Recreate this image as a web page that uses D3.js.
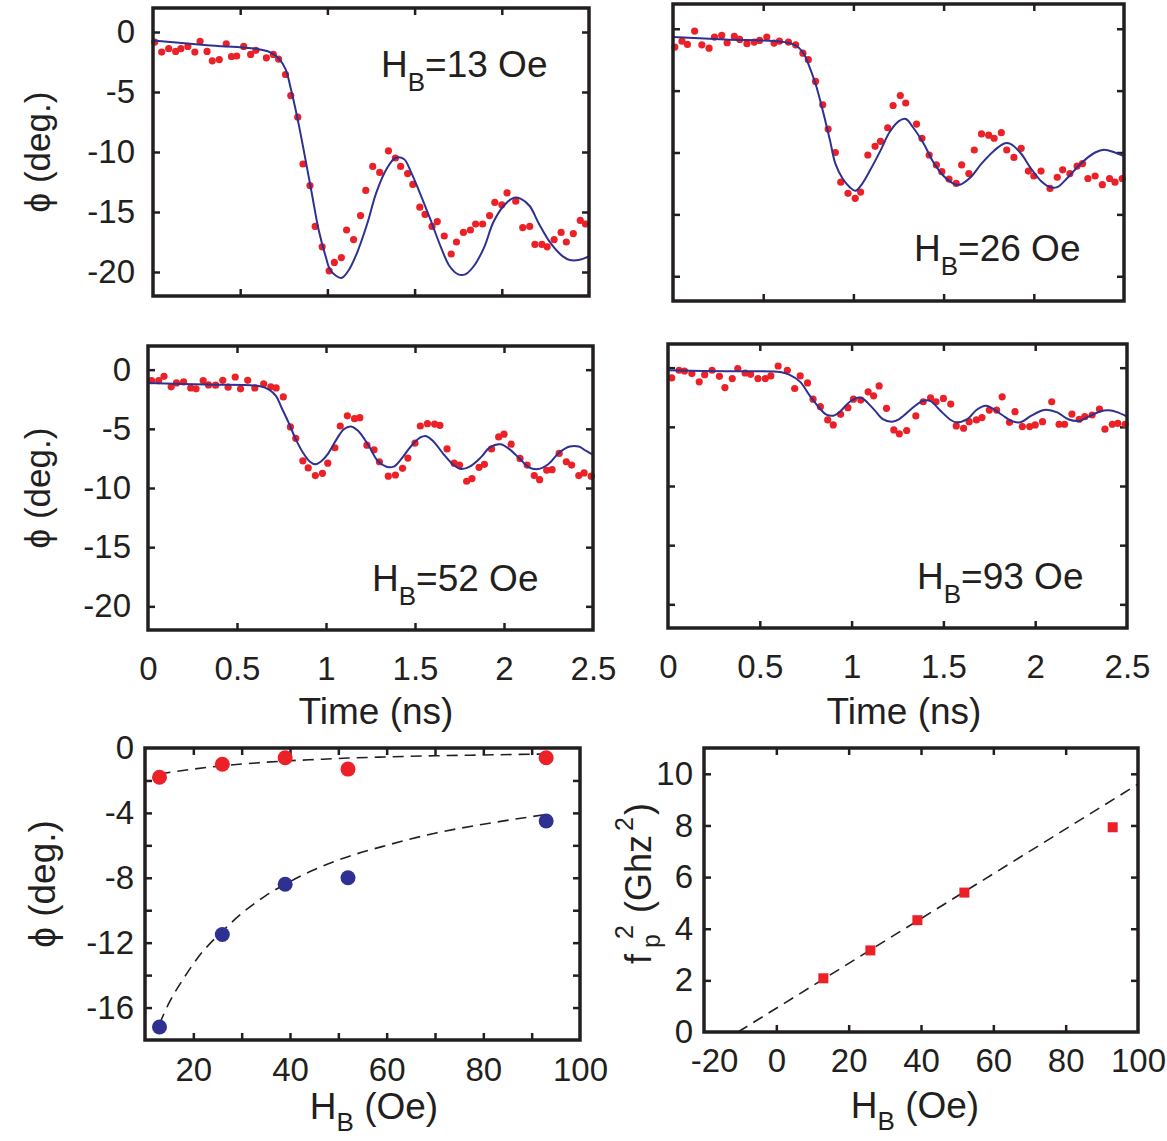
<!DOCTYPE html>
<html lang="en">
<head>
<meta charset="utf-8">
<script src="https://d3js.org/d3.v7.min.js"></script>
<style>
  body { margin: 0; background: #fff; }
  text { font-family: "Liberation Sans", Arial, Helvetica, sans-serif; fill: #231f20; }
</style>
</head>
<body>
<svg width="1167" height="1141"></svg>
<script>

// ---- data ----
// time traces: [t (ns), phi (deg)]
var data13 = [[0.01,-0.84],[0.05,-1.67],[0.09,-1.39],[0.13,-1.62],[0.16,-1.39],[0.2,-1.2],[0.24,-1.67],[0.27,-0.78],[0.31,-1.62],[0.34,-2.4],[0.38,-2.3],[0.42,-0.98],[0.45,-2.04],[0.48,-2.0],[0.52,-1.2],[0.56,-1.87],[0.59,-1.53],[0.65,-2.15],[0.69,-1.87],[0.72,-2.26],[0.76,-3.54],[0.79,-5.3],[0.83,-7.1],[0.86,-11.0],[0.9,-12.8],[0.93,-16.2],[0.97,-17.9],[1.01,-19.9],[1.04,-19.2],[1.08,-18.8],[1.11,-16.5],[1.15,-17.3],[1.19,-15.3],[1.22,-13.2],[1.26,-11.2],[1.3,-11.7],[1.35,-9.9],[1.39,-10.5],[1.42,-11.2],[1.46,-11.8],[1.49,-12.7],[1.53,-14.6],[1.56,-15.2],[1.6,-16.2],[1.63,-15.8],[1.67,-17.0],[1.71,-18.5],[1.74,-17.5],[1.78,-16.7],[1.82,-16.5],[1.85,-16.0],[1.89,-16.0],[1.93,-15.3],[1.96,-14.2],[2.0,-14.4],[2.03,-13.4],[2.08,-14.1],[2.12,-16.3],[2.16,-16.2],[2.19,-17.7],[2.23,-17.7],[2.26,-17.9],[2.3,-17.3],[2.34,-16.7],[2.37,-17.5],[2.41,-16.8],[2.45,-15.7],[2.48,-16.0]];
var fit13 = [[0,-0.7],[0.31,-1.1],[0.59,-1.4],[0.67,-1.67],[0.72,-2.2],[0.76,-3.1],[0.79,-4.7],[0.83,-7.3],[0.87,-10.3],[0.91,-13.4],[0.95,-16.5],[0.99,-18.7],[1.02,-19.9],[1.08,-20.5],[1.12,-19.9],[1.17,-18.4],[1.23,-15.9],[1.28,-13.4],[1.34,-11.4],[1.39,-10.5],[1.44,-10.6],[1.48,-11.7],[1.53,-13.4],[1.59,-15.6],[1.65,-17.9],[1.7,-19.5],[1.75,-20.2],[1.79,-20.2],[1.84,-19.5],[1.9,-17.9],[1.95,-15.9],[2.01,-14.5],[2.07,-13.8],[2.11,-13.9],[2.16,-14.5],[2.21,-15.9],[2.28,-17.6],[2.35,-18.7],[2.39,-19.0],[2.44,-19.0],[2.5,-18.7]];

var data26 = [[0.01,-1.48],[0.05,-1.0],[0.08,-1.27],[0.12,-0.19],[0.16,-1.3],[0.2,-1.57],[0.23,-0.67],[0.27,-0.54],[0.3,-1.13],[0.34,-0.62],[0.37,-0.86],[0.41,-1.21],[0.45,-1.08],[0.48,-0.94],[0.52,-0.67],[0.56,-1.16],[0.59,-1.0],[0.64,-1.08],[0.68,-1.3],[0.72,-1.97],[0.75,-2.5],[0.79,-4.26],[0.83,-6.15],[0.86,-8.1],[0.9,-10.0],[0.93,-12.4],[0.97,-13.3],[1.01,-13.7],[1.04,-13.2],[1.08,-10.2],[1.12,-9.5],[1.15,-9.1],[1.19,-8.0],[1.22,-6.2],[1.26,-5.4],[1.29,-6.0],[1.35,-7.7],[1.38,-8.85],[1.42,-10.2],[1.46,-11.0],[1.49,-11.55],[1.53,-12.15],[1.57,-12.5],[1.6,-11.0],[1.64,-11.7],[1.67,-9.8],[1.71,-8.5],[1.75,-8.6],[1.78,-8.85],[1.82,-8.4],[1.85,-9.8],[1.89,-10.4],[1.93,-9.66],[1.97,-11.5],[2.0,-11.9],[2.04,-11.5],[2.09,-12.9],[2.13,-12.0],[2.16,-11.4],[2.2,-11.7],[2.24,-11.1],[2.27,-10.9],[2.3,-12.1],[2.34,-11.9],[2.38,-12.6],[2.42,-12.1],[2.45,-12.4],[2.49,-12.1]];
var fit26 = [[0,-0.67],[0.29,-0.86],[0.62,-1.08],[0.68,-1.35],[0.72,-1.9],[0.75,-2.83],[0.79,-4.45],[0.83,-6.6],[0.87,-9.0],[0.9,-10.9],[0.94,-12.1],[0.98,-12.8],[1.01,-13.1],[1.04,-12.7],[1.09,-11.5],[1.15,-9.85],[1.2,-8.37],[1.25,-7.48],[1.29,-7.29],[1.33,-7.96],[1.39,-9.3],[1.44,-10.7],[1.5,-11.9],[1.56,-12.55],[1.59,-12.6],[1.65,-12.0],[1.71,-10.9],[1.78,-9.85],[1.84,-9.26],[1.87,-9.3],[1.93,-10.1],[1.98,-11.2],[2.04,-12.3],[2.09,-12.8],[2.13,-12.8],[2.19,-12.0],[2.26,-10.9],[2.34,-10.0],[2.39,-9.77],[2.45,-10.0],[2.5,-10.3]];

var data52 = [[0.02,-0.92],[0.06,-0.92],[0.09,-0.56],[0.13,-1.45],[0.16,-1.12],[0.2,-1.03],[0.24,-1.54],[0.27,-1.62],[0.31,-0.92],[0.34,-1.29],[0.38,-1.31],[0.42,-0.9],[0.45,-1.48],[0.49,-0.62],[0.52,-1.62],[0.56,-0.9],[0.6,-1.54],[0.65,-1.2],[0.69,-1.45],[0.72,-1.54],[0.76,-2.3],[0.8,-4.84],[0.83,-5.8],[0.87,-7.7],[0.9,-8.3],[0.94,-8.95],[0.98,-8.76],[1.01,-7.9],[1.05,-6.6],[1.08,-4.76],[1.12,-3.9],[1.16,-4.14],[1.19,-4.06],[1.23,-6.38],[1.27,-6.77],[1.3,-7.78],[1.35,-9.0],[1.39,-8.9],[1.43,-8.34],[1.46,-7.47],[1.5,-6.2],[1.53,-4.76],[1.57,-4.56],[1.61,-4.6],[1.64,-4.7],[1.68,-6.7],[1.72,-7.9],[1.75,-8.06],[1.79,-9.43],[1.82,-9.2],[1.86,-8.25],[1.89,-8.0],[1.93,-6.7],[1.97,-5.68],[2.0,-5.45],[2.04,-6.3],[2.09,-7.5],[2.13,-8.06],[2.17,-8.95],[2.2,-9.3],[2.24,-8.5],[2.27,-8.45],[2.31,-7.08],[2.35,-7.78],[2.38,-8.06],[2.42,-8.95],[2.45,-8.73],[2.49,-9.0]];
var fit52 = [[0,-1.12],[0.33,-1.26],[0.63,-1.4],[0.68,-1.68],[0.72,-2.24],[0.75,-3.2],[0.79,-4.48],[0.83,-5.87],[0.87,-7.0],[0.91,-7.78],[0.94,-8.0],[0.97,-7.78],[1.01,-7.13],[1.06,-5.87],[1.1,-5.03],[1.14,-4.8],[1.18,-5.17],[1.24,-6.43],[1.29,-7.7],[1.34,-8.2],[1.38,-8.2],[1.42,-7.6],[1.48,-6.43],[1.53,-5.73],[1.56,-5.6],[1.6,-6.0],[1.66,-7.13],[1.72,-8.1],[1.76,-8.4],[1.81,-8.17],[1.87,-7.41],[1.92,-6.57],[1.98,-6.3],[2.03,-6.71],[2.09,-7.55],[2.14,-8.25],[2.19,-8.4],[2.25,-7.97],[2.31,-7.0],[2.37,-6.49],[2.42,-6.5],[2.46,-6.85],[2.5,-7.2]];

var data93 = [[0.02,-0.87],[0.06,-0.22],[0.09,-0.28],[0.13,-0.5],[0.17,-1.2],[0.2,-0.59],[0.24,-0.22],[0.28,-0.73],[0.31,-1.68],[0.35,-0.92],[0.38,-0.08],[0.42,-0.45],[0.45,-0.56],[0.49,-0.92],[0.53,-0.92],[0.56,-0.7],[0.6,0.14],[0.65,-0.22],[0.69,-1.76],[0.72,-0.7],[0.76,-1.29],[0.79,-2.66],[0.83,-3.3],[0.87,-4.42],[0.9,-4.84],[0.94,-3.94],[0.98,-3.38],[1.01,-2.66],[1.05,-2.74],[1.09,-2.04],[1.12,-2.38],[1.15,-1.54],[1.19,-3.44],[1.23,-5.26],[1.26,-5.59],[1.3,-5.31],[1.35,-4.08],[1.39,-2.88],[1.43,-2.55],[1.46,-2.88],[1.5,-2.6],[1.54,-3.08],[1.57,-4.92],[1.61,-5.12],[1.64,-4.56],[1.68,-4.42],[1.71,-4.22],[1.75,-3.58],[1.79,-3.58],[1.82,-2.46],[1.86,-4.62],[1.89,-3.72],[1.93,-4.98],[1.97,-4.98],[2.0,-4.84],[2.04,-4.56],[2.09,-2.88],[2.13,-4.78],[2.16,-4.78],[2.2,-3.92],[2.24,-4.36],[2.27,-4.14],[2.31,-4.0],[2.35,-3.5],[2.38,-5.2],[2.42,-4.78],[2.45,-4.7],[2.49,-4.78]];
var fit93 = [[0,-0.22],[0.32,-0.31],[0.61,-0.36],[0.66,-0.59],[0.72,-1.2],[0.77,-2.32],[0.83,-3.5],[0.86,-3.94],[0.9,-4.06],[0.94,-3.66],[0.99,-2.88],[1.04,-2.52],[1.06,-2.6],[1.12,-3.5],[1.17,-4.34],[1.22,-4.56],[1.26,-4.34],[1.34,-3.3],[1.39,-2.8],[1.43,-2.83],[1.48,-3.58],[1.54,-4.42],[1.57,-4.62],[1.63,-4.34],[1.68,-3.58],[1.73,-3.22],[1.76,-3.38],[1.82,-4.0],[1.87,-4.5],[1.92,-4.62],[1.97,-4.14],[2.03,-3.66],[2.06,-3.55],[2.12,-3.78],[2.18,-4.36],[2.24,-4.5],[2.29,-4.14],[2.35,-3.72],[2.4,-3.6],[2.45,-3.78],[2.5,-4.14]];

// summary panels
var fieldHB = [13, 26, 39, 52, 93];
var phiRed  = [-1.8, -1.0, -0.6, -1.3, -0.6];
var phiBlue = [-17.2, -11.5, -8.4, -8.0, -4.5];
var fitRed  = [[13,-1.6],[20,-1.3],[26,-1.1],[33,-0.92],[39,-0.8],[46,-0.7],[52,-0.62],[60,-0.55],[70,-0.48],[80,-0.43],[93,-0.37]];
var fitBlue = [[13,-17.0],[15,-15.7],[18,-14.2],[21,-12.9],[26,-11.3],[30,-10.2],[35,-9.1],[39,-8.4],[45,-7.5],[52,-6.7],[60,-6.0],[70,-5.25],[80,-4.7],[93,-4.1]];
var fp2     = [2.08, 3.16, 4.33, 5.4, 7.93];
var fitFp2  = [[-10.6, 0], [100, 9.6]];

// tick values / labels
var timeTicks  = [0.5, 1, 1.5, 2];
var timeLabels = [0, 0.5, 1, 1.5, 2, 2.5];
var phiTicks   = [0, -5, -10, -15, -20];
var hbTicks    = [20, 30, 40, 50, 60, 70, 80, 90];
var hbLabels   = [20, 40, 60, 80, 100];
var phi2Ticks  = [-2, -4, -6, -8, -10, -12, -14, -16];
var phi2Labels = [0, -4, -8, -12, -16];
var hb2Ticks   = [0, 20, 40, 60, 80];
var hb2Labels  = [-20, 0, 20, 40, 60, 80, 100];
var fTicks     = [2, 4, 6, 8, 10];
var fLabels    = [0, 2, 4, 6, 8, 10];

var RED = "#ec2027", BLUE = "#2e3192", INK = "#231f20";
var svg = d3.select("svg");

function noDomain(g) { g.select(".domain").remove(); }

// frame + inward ticks on all four sides, optional labels
function panel(o) {
  var x = d3.scaleLinear().domain(o.xd).range([o.l, o.r]);
  var y = d3.scaleLinear().domain(o.yd).range([o.b, o.t]);
  var g = svg.append("g");

  var tk = [
    [d3.axisBottom(x).tickValues(o.xt), "translate(0," + o.b + ")"],
    [d3.axisTop(x).tickValues(o.xt), "translate(0," + o.t + ")"],
    [d3.axisLeft(y).tickValues(o.yt), "translate(" + o.l + ",0)"],
    [d3.axisRight(y).tickValues(o.yt), "translate(" + o.r + ",0)"]
  ];
  tk.forEach(function(a) {
    g.append("g").attr("transform", a[1])
      .call(a[0].tickSizeInner(-7).tickSizeOuter(0).tickFormat(""))
      .call(noDomain)
      .selectAll("line").attr("stroke", INK).attr("stroke-width", 2.5);
  });

  if (o.xl) {
    o.xlab = g.append("g").attr("transform", "translate(0," + o.b + ")")
      .call(d3.axisBottom(x).tickValues(o.xl).tickSize(0).tickPadding(o.xpad).tickFormat(String))
      .call(noDomain);
    o.xlab.selectAll("text").attr("font-size", 33).attr("font-family", null).attr("fill", INK);
  }
  if (o.yl) {
    g.append("g").attr("transform", "translate(" + o.l + ",0)")
      .call(d3.axisLeft(y).tickValues(o.yl).tickSize(0).tickPadding(o.ypad).tickFormat(String))
      .call(noDomain)
      .selectAll("text").attr("font-size", 33).attr("font-family", null).attr("fill", INK);
  }

  o.x = x; o.y = y; o.g = g;
  return o;
}

function frame(o) {
  o.g.append("rect")
    .attr("x", o.l).attr("y", o.t)
    .attr("width", o.r - o.l).attr("height", o.b - o.t)
    .attr("fill", "none").attr("stroke", INK).attr("stroke-width", 3.5);
}

function tracePanel(o, pts, fit, hb, lx, ly) {
  var p = panel(o);
  var line = d3.line().curve(d3.curveCatmullRom.alpha(0.5))
    .x(function(d) { return p.x(d[0]); })
    .y(function(d) { return p.y(d[1]); });

  p.g.selectAll(".dot").data(pts).enter().append("circle")
    .attr("cx", function(d) { return p.x(d[0]); })
    .attr("cy", function(d) { return p.y(d[1]); })
    .attr("r", 3.6).attr("fill", RED);

  p.g.append("path").datum(fit).attr("d", line)
    .attr("fill", "none").attr("stroke", BLUE).attr("stroke-width", 2);

  frame(p);

  var t = p.g.append("text").attr("x", lx).attr("y", ly).attr("font-size", 37);
  t.append("tspan").text("H");
  t.append("tspan").attr("font-size", 26).attr("dy", 14).text("B");
  t.append("tspan").attr("dy", -14).text("=" + hb + " Oe");
  return p;
}

function phiTitle(x, y, size) {
  svg.append("text")
    .attr("transform", "translate(" + x + "," + y + ") rotate(-90)")
    .attr("text-anchor", "middle").attr("font-size", size || 35)
    .text("\u03d5 (deg.)");
}

function hbTitle(x, y) {
  var t = svg.append("text").attr("x", x).attr("y", y)
    .attr("text-anchor", "middle").attr("font-size", 37);
  t.append("tspan").text("H");
  t.append("tspan").attr("font-size", 26).attr("dy", 12).text("B");
  t.append("tspan").attr("dy", -12).text(" (Oe)");
}

function timeTitle(x, y) {
  svg.append("text").attr("x", x).attr("y", y)
    .attr("text-anchor", "middle").attr("font-size", 37)
    .text("Time (ns)");
}

// ---- the four time traces ----
tracePanel({ l: 153, r: 589, t: 8, b: 296, xd: [0, 2.5], yd: [-22, 2],
  xt: timeTicks, yt: phiTicks, yl: phiTicks, ypad: 18 }, data13, fit13, 13, 381, 77);

tracePanel({ l: 673, r: 1124, t: 4, b: 301, xd: [0, 2.5], yd: [-22, 2],
  xt: timeTicks, yt: phiTicks }, data26, fit26, 26, 914, 261);

tracePanel({ l: 148, r: 593, t: 346, b: 630, xd: [0, 2.5], yd: [-22, 2],
  xt: timeTicks, yt: phiTicks, yl: phiTicks, ypad: 17,
  xl: timeLabels, xpad: 27 }, data52, fit52, 52, 372, 591);

tracePanel({ l: 668, r: 1127, t: 344, b: 628, xd: [0, 2.5], yd: [-22, 2],
  xt: timeTicks, yt: phiTicks, xl: timeLabels, xpad: 27 }, data93, fit93, 93, 917, 589);

phiTitle(50, 152);
phiTitle(50, 488);
timeTitle(376, 724);
timeTitle(904, 724);

// ---- phi vs H_B ----
var p5 = panel({ l: 145, r: 580, t: 748, b: 1040, xd: [10, 100], yd: [-18, 0],
  xt: hbTicks, yt: phi2Ticks, xl: hbLabels, xpad: 18, yl: phi2Labels, ypad: 11 });

var fitLine5 = d3.line().curve(d3.curveMonotoneX)
  .x(function(d) { return p5.x(d[0]); })
  .y(function(d) { return p5.y(d[1]); });

[fitRed, fitBlue].forEach(function(f) {
  p5.g.append("path").datum(f).attr("d", fitLine5)
    .attr("fill", "none").attr("stroke", INK).attr("stroke-width", 1.6)
    .attr("stroke-dasharray", "11,7");
});

[[phiRed, RED], [phiBlue, BLUE]].forEach(function(s) {
  p5.g.selectAll(null).data(s[0]).enter().append("circle")
    .attr("cx", function(d, i) { return p5.x(fieldHB[i]); })
    .attr("cy", function(d) { return p5.y(d); })
    .attr("r", 7.5).attr("fill", s[1]);
});
frame(p5);
phiTitle(55, 884, 37);
hbTitle(374, 1119);

// ---- f_p^2 vs H_B ----
var p6 = panel({ l: 704, r: 1138, t: 748, b: 1032, xd: [-20, 100], yd: [0, 11],
  xt: hb2Ticks, yt: fTicks, xl: hb2Labels, xpad: 17, yl: fLabels, ypad: 11 });
// the "-20" label sits a little right of the frame corner in the original
p6.xlab.selectAll("text").filter(function(d) { return d < 0; }).attr("dx", 10);

p6.g.append("path").datum(fitFp2)
  .attr("d", d3.line().x(function(d) { return p6.x(d[0]); }).y(function(d) { return p6.y(d[1]); }))
  .attr("fill", "none").attr("stroke", INK).attr("stroke-width", 1.6)
  .attr("stroke-dasharray", "11,7");

p6.g.selectAll(null).data(fp2).enter().append("rect")
  .attr("x", function(d, i) { return p6.x(fieldHB[i]) - 5; })
  .attr("y", function(d) { return p6.y(d) - 5; })
  .attr("width", 10).attr("height", 10).attr("fill", RED);
frame(p6);

hbTitle(915, 1118);

var ft = svg.append("text")
  .attr("transform", "translate(651,967) rotate(-90)")
  .attr("font-size", 36);
ft.append("tspan").attr("x", 3).text("f");
ft.append("tspan").attr("x", 19).attr("font-size", 25).attr("dy", 9).text("p");
ft.append("tspan").attr("x", 28).attr("font-size", 25).attr("dy", -27).text("2");
ft.append("tspan").attr("x", 54).attr("dy", 18).text("(Ghz");
ft.append("tspan").attr("x", 136).attr("font-size", 25).attr("dy", -18).text("2");
ft.append("tspan").attr("x", 152).attr("dy", 18).text(")");

</script>
</body>
</html>
